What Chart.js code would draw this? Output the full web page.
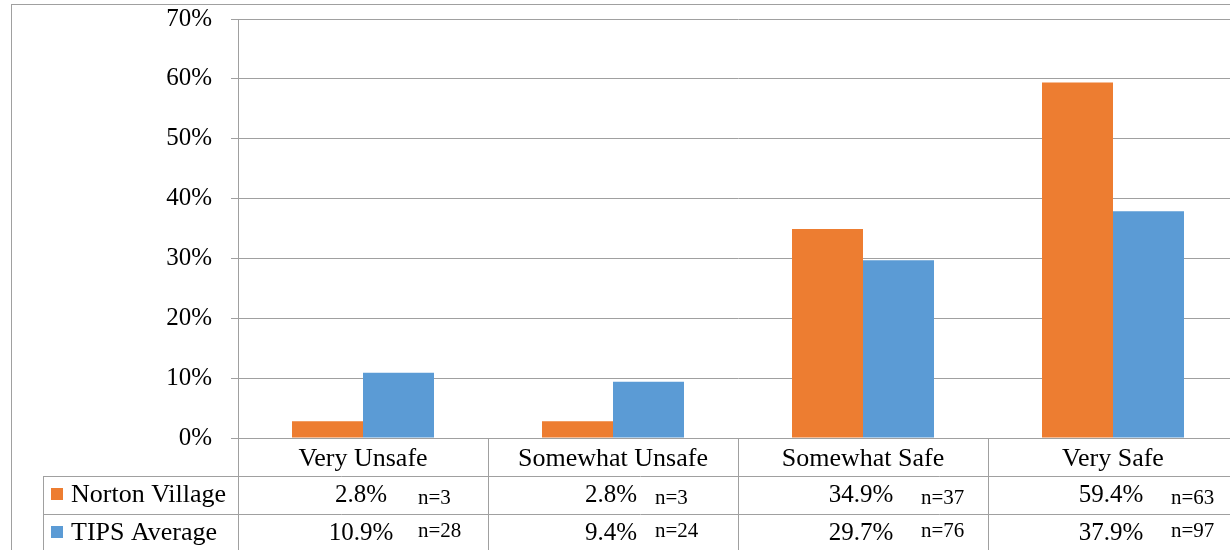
<!DOCTYPE html>
<html>
<head>
<meta charset="utf-8">
<script src="https://cdn.jsdelivr.net/npm/chart.js@4"></script>
<style>
  html, body { margin: 0; padding: 0; background: #fff; overflow: hidden; }
  #wrap { position: absolute; left: 0; top: 0; width: 1250px; height: 550px; z-index: 3; }
  #fontWarm { position: absolute; left: 20px; top: 60px; z-index: 1; color: #fff; white-space: nowrap; }
  #warmCanvas { position: absolute; left: 20px; top: 250px; z-index: 1; }
</style>
</head>
<body>
<div id="fontWarm">
  <div style="font-family:'Liberation Serif'; font-size:26px">Very Unsafe Norton Village</div>
  <div style="font-family:'Liberation Serif'; font-size:25px">0123456789.%</div>
  <div style="font-family:'Liberation Serif'; font-size:21px">n=0123456789</div>
  <div style="font-family:serif; font-size:26px">Very Unsafe serif</div>
  <div style="font-family:'Times New Roman'; font-size:26px">Very Unsafe TNR</div>
</div>
<canvas id="warmCanvas" width="300" height="120"></canvas>
<div id="wrap"><canvas id="barChart"></canvas></div>
<script>
const categories = ['Very Unsafe', 'Somewhat Unsafe', 'Somewhat Safe', 'Very Safe'];
const seriesNames = ['Norton Village', 'TIPS Average'];
const nortonValues = [0.028, 0.028, 0.349, 0.594];
const tipsValues = [0.109, 0.094, 0.297, 0.379];
const nortonCounts = [3, 3, 37, 63];
const tipsCounts = [28, 24, 76, 97];
const yTicks = [0, 0.1, 0.2, 0.3, 0.4, 0.5, 0.6, 0.7];

const colors = ['#ED7D31', '#5B9BD5'];
const lineColor = '#a0a0a0';
const serif = "'Liberation Serif'";

// where the little "n=" boxes sit, relative to the column centre
const nOffsets = [55, 42, 58, 58];

// touch the serif face on a visible canvas first (white on white)
const warm = document.getElementById('warmCanvas').getContext('2d');
warm.fillStyle = '#fff';
[26, 25, 21].forEach((size, i) => {
    warm.font = size + "px 'Liberation Serif'";
    warm.fillText('Canvas Very Unsafe 0123.%', 5, 30 + i * 30);
    warm.font = size + 'px serif';
    warm.fillText('Canvas Very Unsafe 0123.%', 5, 30 + i * 30);
});

// draws the data table under the plot, the way Excel does it
const dataTable = {
    id: 'dataTable',
    afterDraw(chart) {
        const c = chart.ctx;
        const area = chart.chartArea;
        const x = chart.scales.x;
        const colW = (area.right - area.left) / categories.length;
        const rowTop = 476, rowMid = 514, rowBottom = 552, tableLeft = 43;

        c.save();
        c.strokeStyle = lineColor;
        c.lineWidth = 1;

        // outer frame
        c.strokeRect(11.5, 4.5, 1300, 600);

        c.beginPath();
        for (let i = 0; i <= categories.length; i++) {
            const px = Math.round(area.left + i * colW) + 0.5;
            c.moveTo(px, area.bottom);
            c.lineTo(px, rowBottom);
        }
        c.moveTo(tableLeft + 0.5, rowTop);
        c.lineTo(tableLeft + 0.5, rowBottom);
        c.moveTo(tableLeft, rowTop + 0.5);
        c.lineTo(area.right, rowTop + 0.5);
        c.moveTo(tableLeft, rowMid + 0.5);
        c.lineTo(area.right, rowMid + 0.5);
        c.stroke();

        const rows = [
            {values: nortonValues, counts: nortonCounts, y: 495, ny: 498},
            {values: tipsValues, counts: tipsCounts, y: 533, ny: 531}
        ];
        c.textBaseline = 'middle';
        rows.forEach((row, r) => {
            // legend key
            c.fillStyle = colors[r];
            c.fillRect(51, row.y - 7, 12, 12);
            c.fillStyle = '#000';
            c.font = '26px ' + serif;
            c.textAlign = 'left';
            c.fillText(seriesNames[r], 71, row.y);

            row.values.forEach((v, i) => {
                const cx = x.getPixelForValue(i);
                c.font = '25px ' + serif;
                c.textAlign = 'center';
                c.fillText((v * 100).toFixed(1) + '%', cx - 2, row.y);
                c.font = '21px ' + serif;
                c.textAlign = 'left';
                c.fillText('n=' + row.counts[i], cx + nOffsets[i], row.ny);
            });
        });
        c.restore();
    }
};

const ctx = document.getElementById('barChart').getContext('2d');
const barChart = new Chart(ctx, {
    type: 'bar',
    data: {
        labels: categories,
        datasets: [{
            label: seriesNames[0],
            data: nortonValues,
            backgroundColor: colors[0],
            borderWidth: 0
        }, {
            label: seriesNames[1],
            data: tipsValues,
            backgroundColor: colors[1],
            borderWidth: 0
        }]
    },
    options: {
        responsive: true,
        maintainAspectRatio: false,
        animation: false,
        layout: {
            padding: {top: 19, right: 12, left: 0, bottom: 0}
        },
        datasets: {
            bar: {categoryPercentage: 0.568, barPercentage: 1.0}
        },
        scales: {
            x: {
                grid: {display: false, drawTicks: false},
                border: {display: true, color: lineColor},
                ticks: {
                    color: '#000',
                    font: {family: serif, size: 26},
                    padding: 6,
                    maxRotation: 0
                },
                afterFit(scale) { scale.height = 112; }
            },
            y: {
                min: 0,
                max: 0.7,
                afterBuildTicks(scale) {
                    scale.ticks = yTicks.map(v => ({value: v}));
                },
                ticks: {
                    color: '#000',
                    font: {family: serif, size: 25},
                    padding: 19,
                    callback: v => Math.round(v * 100) + '%'
                },
                grid: {color: lineColor, tickLength: 7},
                border: {color: lineColor},
                afterFit(scale) {
                    scale.width = 238;
                    // label padding would push the plot down; the top label fits in the margin
                    scale.paddingTop = 0;
                }
            }
        },
        plugins: {
            legend: {display: false},
            tooltip: {enabled: false}
        }
    },
    plugins: [dataTable]
});

// draw again once the page has painted with the serif face
requestAnimationFrame(() => requestAnimationFrame(() => barChart.update('none')));
</script>
</body>
</html>
